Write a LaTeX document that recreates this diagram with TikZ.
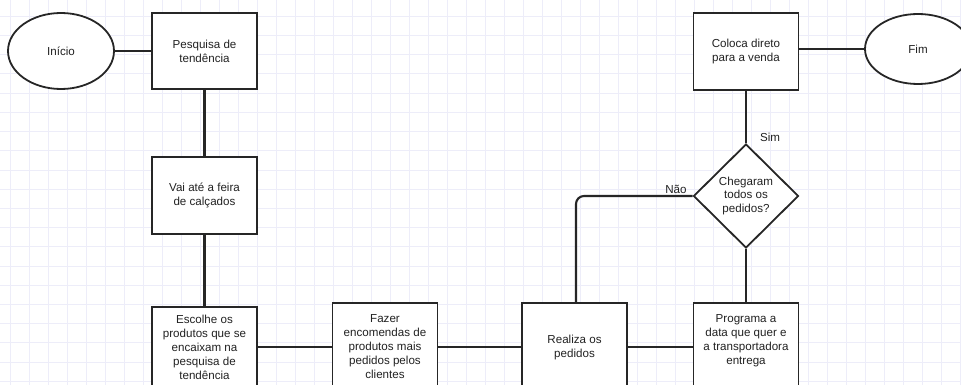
\documentclass[tikz,border=0pt]{standalone}
\usepackage{fontspec}
\setmainfont{Liberation Sans}
\usetikzlibrary{shapes.geometric}
\definecolor{gridc}{HTML}{EDEDF9}
\definecolor{ink}{HTML}{262626}
\definecolor{txt}{HTML}{222222}
\tikzset{
  procbox/.style={draw=ink, line width=1.8pt, fill=white, rectangle, inner sep=2pt,
    minimum width=105pt, align=center, text=txt,
    font=\fontsize{11.6}{14}\selectfont},
  termin/.style={draw=ink, line width=1.8pt, fill=white, ellipse, inner sep=0pt,
    minimum width=106pt, text=txt, font=\fontsize{11.6}{14}\selectfont},
  decis/.style={draw=ink, line width=1.8pt, fill=white, diamond, inner sep=0pt,
    minimum width=105pt, minimum height=104pt, align=center, text=txt,
    font=\fontsize{11.6}{14}\selectfont},
  conn/.style={draw=ink, line width=2.1pt},
  lbl/.style={text=txt, font=\fontsize{11.6}{14}\selectfont, inner sep=0pt}
}
\begin{document}
\begin{tikzpicture}[x=1pt, y=-1pt]
\useasboundingbox (0,0) rectangle (961,385);
\clip (0,0) rectangle (961,385);
\fill[white] (0,0) rectangle (961,385);
% grid
\foreach \i in {0,...,50} {
  \draw[gridc, line width=1pt] ({10+19*\i},0) -- ({10+19*\i},385);
}
\foreach \j in {0,...,20} {
  \draw[gridc, line width=1pt] (0,{-2.8+19.2*\j}) -- (961,{-2.8+19.2*\j});
}
% nodes
\node[termin, minimum height=76pt] (inicio) at (61,51) {Início};
\node[procbox, minimum height=76pt] (pesq) at (204.5,51) {Pesquisa de\\tendência};
\node[procbox, minimum height=77pt] (vai) at (204.5,195.5) {Vai até a feira\\de calçados};
\node[procbox, minimum height=80pt] (escolhe) at (204.5,347) {Escolhe os\\produtos que se\\encaixam na\\pesquisa de\\tendência};
\node[procbox, minimum height=88pt] (fazer) at (385,347) {Fazer\\encomendas de\\produtos mais\\pedidos pelos\\clientes};
\node[procbox, minimum height=88pt] (realiza) at (574.5,347) {Realiza os\\pedidos};
\node[procbox, minimum height=88pt] (prog) at (746,347) {Programa a\\data que quer e\\a transportadora\\entrega\\\mbox{}};
\node[decis] (dia) at (746,196) {Chegaram\\todos os\\pedidos?};
\node[procbox, minimum height=77pt] (coloca) at (746,51.5) {Coloca direto\\para a venda};
\node[termin, minimum height=70pt] (fim) at (918,49) {Fim};
% connectors
\draw[conn] (inicio.east) -- (pesq.west);
\draw[conn] (pesq.south) -- (vai.north);
\draw[conn] (vai.south) -- (escolhe.north);
\draw[conn] (escolhe.east) -- (fazer.west);
\draw[conn] (fazer.east) -- (realiza.west);
\draw[conn] (realiza.east) -- (prog.west);
\draw[conn] (prog.north) -- (dia.south);
\draw[conn] (dia.north) -- (coloca.south);
\draw[conn] (fim.west) -- (fim.west -| coloca.east);
\draw[conn, rounded corners=8pt] (dia.west) -| ([xshift=1.5pt]realiza.north);
% labels
\node[lbl] (sim) at (770,137) {Sim};
\node[lbl] (nao) at (676,189) {Não};
\end{tikzpicture}
\end{document}
